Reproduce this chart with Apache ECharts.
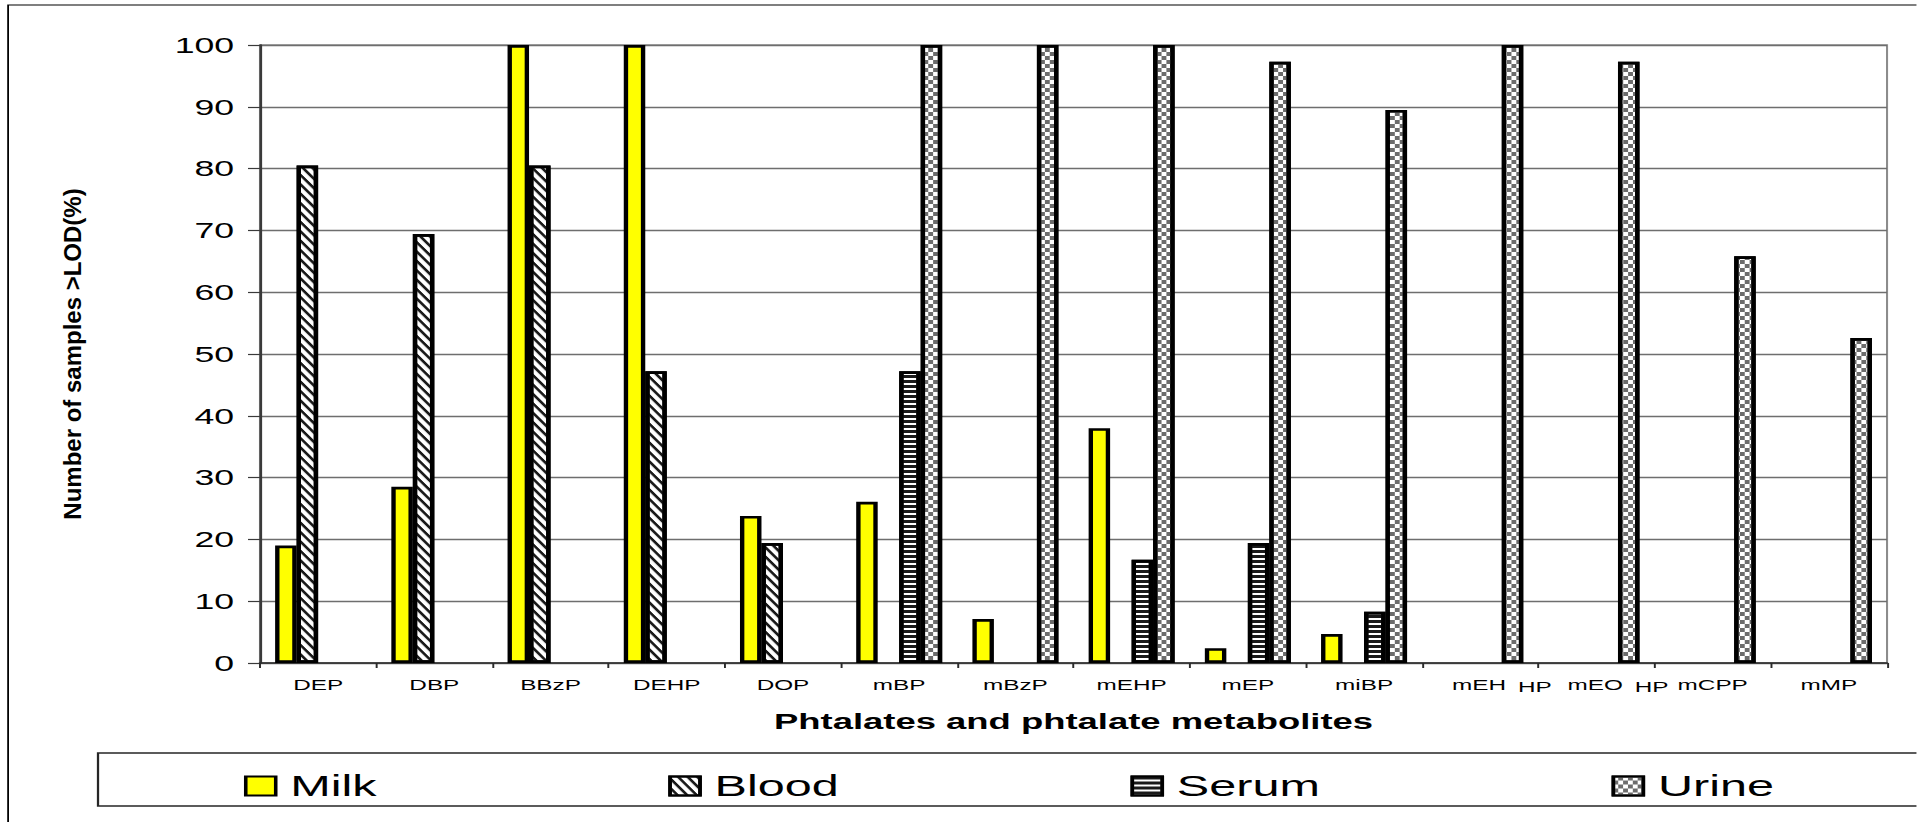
<!DOCTYPE html>
<html>
<head>
<meta charset="utf-8">
<script src="https://cdn.jsdelivr.net/npm/echarts@6/dist/echarts.min.js"></script>
<style>
  html, body { margin: 0; padding: 0; background: #fff; overflow: hidden; width: 1917px; height: 822px; }
  /* the chart is laid out narrow and widened horizontally, like a stretched office chart */
  #stage { position: absolute; left: 0; top: 0; width: 1183.33px; height: 822px;
           transform: scaleX(1.62); transform-origin: 0 0; }
</style>
</head>
<body>
<div id="stage"></div>
<script>
// Detection frequency (% of samples above LOD) per compound and matrix
const categories = ['DEP', 'DBP', 'BBzP', 'DEHP', 'DOP', 'mBP', 'mBzP', 'mEHP', 'mEP', 'miBP', 'mEHHP', 'mEOHP', 'mCPP', 'mMP'];
const milk  = [19.0, 28.5, 100, 100, 23.8, 26.1, 7.1, 38.0, 2.4, 4.7, null, null, null, null];
const blood = [80.5, 69.4, 80.5, 47.2, 19.4, null, null, null, null, null, null, null, null, null];
const serum = [null, null, null, null, null, 47.2, null, 16.7, 19.4, 8.3, null, null, null, null];
const urine = [null, null, null, null, null, 100, 100, 100, 97.3, 89.5, 100, 97.3, 65.8, 52.6];
const seriesNames = ['Milk', 'Blood', 'Serum', 'Urine'];
// tick labels of the value axis: 0, 10, ... 100
const yMin = 0, yMax = 100, yStep = 10;
// two labels are typeset with their last part dropped a little
const splitLabels = { mEHHP: ['mEH', 'HP'], mEOHP: ['mEO', 'HP'] };

const FONT = '"Liberation Sans", Arial, Helvetica, sans-serif';
const edge = { borderColor: '#000', borderWidth: 2.7 };

const chart = echarts.init(document.getElementById('stage'), null, { renderer: 'svg', width: 1183.33, height: 822 });

chart.setOption({
  backgroundColor: '#fff',
  animation: false,
  textStyle: { fontFamily: FONT },
  grid: { left: 160.5, right: 18.5, top: 45, bottom: 159, show: true, borderColor: '#8c8c8c', borderWidth: 1.3, backgroundColor: '#fff' },
  legend: {
    data: seriesNames,
    left: 150.6, top: 771, padding: 0,
    icon: 'rect', itemWidth: 18.5, itemHeight: 19, itemGap: 180,
    selectedMode: false,
    itemStyle: { borderColor: '#000', borderWidth: 2.2 },
    textStyle: { fontSize: 30, color: '#000', fontFamily: FONT, lineHeight: 30, padding: [0, 0, 0, 4] }
  },
  xAxis: {
    type: 'category',
    data: categories,
    axisLine: { lineStyle: { color: '#2b2b2b', width: 1.6 } },
    axisTick: { show: true, length: 5, lineStyle: { color: '#2b2b2b', width: 1.2 } },
    axisLabel: {
      interval: 0, margin: 14, fontSize: 15, lineHeight: 16, color: '#000', fontFamily: FONT,
      formatter: function (v) {
        const p = splitLabels[v];
        return p ? '{a|' + p[0] + '}{b|' + p[1] + '}' : v;
      },
      rich: {
        a: { fontSize: 15, lineHeight: 16, color: '#000', fontFamily: FONT, verticalAlign: 'top', padding: [0, 7.4, 0, 26.6] },
        b: { fontSize: 15, lineHeight: 16, color: '#000', fontFamily: FONT, verticalAlign: 'top', padding: [2.5, 0, 0, 0] }
      }
    },
    splitLine: { show: false },
    name: 'Phtalates and phtalate metabolites',
    nameLocation: 'middle', nameGap: 47,
    nameTextStyle: { fontSize: 22.5, fontWeight: 'bold', color: '#000', fontFamily: FONT }
  },
  yAxis: {
    type: 'value', min: yMin, max: yMax, interval: yStep,
    axisLine: { show: true, lineStyle: { color: '#3a3a3a', width: 1.6 } },
    axisTick: { show: true, length: 7.4, lineStyle: { color: '#3a3a3a', width: 1.2 } },
    axisLabel: { margin: 16, fontSize: 22, color: '#000', fontFamily: FONT },
    splitLine: { lineStyle: { color: '#6e6e6e', width: 1.3 } }
  },
  series: [
    { name: 'Milk', type: 'bar', data: milk, barGap: '0%', barCategoryGap: '26%',
      itemStyle: Object.assign({ color: '#ffff00' }, edge) },
    { name: 'Blood', type: 'bar', data: blood, barGap: '0%', barCategoryGap: '26%',
      itemStyle: Object.assign({ color: '#ffffff',
        decal: { symbol: 'rect', symbolSize: 1, symbolKeepAspect: false, color: '#1a1a1a', backgroundColor: '#ffffff',
                 dashArrayX: [8, 0], dashArrayY: [2, 3], rotation: 1.01 } }, edge) },
    { name: 'Serum', type: 'bar', data: serum, barGap: '0%', barCategoryGap: '26%',
      itemStyle: Object.assign({ color: '#ffffff',
        decal: { symbol: 'rect', symbolSize: 1, symbolKeepAspect: false, color: '#1a1a1a', backgroundColor: '#ffffff',
                 dashArrayX: [8, 0], dashArrayY: [3, 2], rotation: 0 } }, edge) },
    { name: 'Urine', type: 'bar', data: urine, barGap: '0%', barCategoryGap: '26%',
      itemStyle: Object.assign({ color: '#ffffff',
        decal: { symbol: 'rect', symbolSize: 1, symbolKeepAspect: false, color: '#6c6c6c', backgroundColor: '#ffffff',
                 dashArrayX: [[3, 3], [0, 3, 3, 0]], dashArrayY: [4, 0], rotation: 0 } }, edge) }
  ],
  graphic: [
    { type: 'rect', silent: true, z: -10, shape: { x: 5, y: 5, width: 1400, height: 1000 },
      style: { fill: 'none', stroke: '#000', lineWidth: 1.1 } },
    { type: 'rect', silent: true, z: -10, shape: { x: 60.5, y: 753, width: 1400, height: 53 },
      style: { fill: 'none', stroke: '#262626', lineWidth: 1.4 } },
    { type: 'text', silent: true, x: 45, y: 354, rotation: Math.PI / 2, scaleX: 1, scaleY: 0.6,
      style: { text: 'Number of samples >LOD(%)', font: 'bold 24px ' + FONT, fill: '#000',
               align: 'center', verticalAlign: 'middle', textAlign: 'center', textVerticalAlign: 'middle' } }
  ]
});
</script>
</body>
</html>
